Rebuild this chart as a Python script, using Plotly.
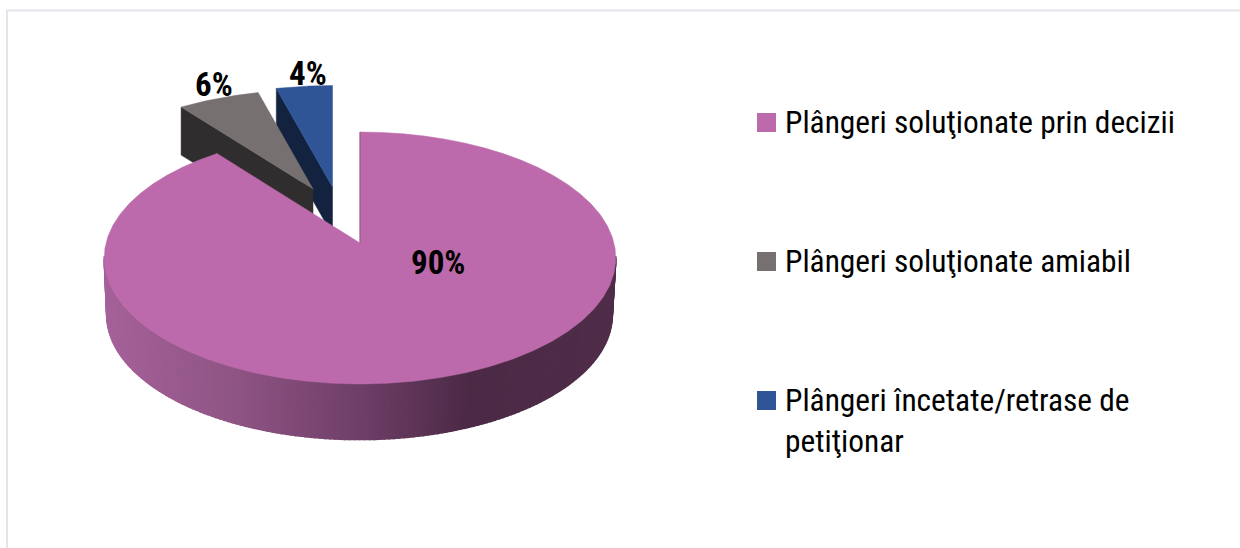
import numpy as np
import plotly.graph_objects as go

# ---- data ----
categories = ["Plângeri soluţionate prin decizii", "Plângeri soluţionate amiabil",
              "Plângeri încetate/retrase de<br>petiţionar"]
values = [90, 6, 4]
top_colors = ["#bc6aab", "#767170", "#2f5597"]
side_colors = [None, "#2f2d2d", "#13233f"]

# ---- pie geometry (pixels; a tilted disc seen in perspective) ----
W, H = 1240, 548
K = 0.119
DEPTH = 48
apex = [(360, 243), (313, 189), (332.5, 187)]
scale = [(254, 124.2), (246, 111), (252, 113.5)]
end_trim = [2.0, 0.0, 0.0]   # the big slice's cut edge sits slightly short in perspective


def proj(deg, ax, ay, bx, by):
    t = np.radians(deg)
    d = 1 + K * np.cos(t)
    return ax + bx * np.sin(t) / d, ay - by * np.cos(t) / d


angles = np.concatenate([[0], np.cumsum(values)]) * 3.6
fig = go.Figure()


def poly(x, y, color, width=0.5):
    fig.add_trace(go.Scatter(x=x, y=y, mode="lines", fill="toself", fillcolor=color,
                             line=dict(color=color, width=width), hoverinfo="skip",
                             showlegend=False))


def wedge(i):
    th = np.linspace(angles[i], angles[i + 1] - end_trim[i], 60)
    xs, ys = proj(th, *apex[i], *scale[i])
    return np.r_[apex[i][0], xs, apex[i][0]], np.r_[apex[i][1], ys, apex[i][1]], xs[0], ys[0]


# blue slice, then grey slice: radial side faces and top faces
for i in (2, 1):
    x, y, x0, y0 = wedge(i)
    ax, ay = apex[i]
    poly([x0, ax, ax, x0, x0], [y0, ay, ay + DEPTH, y0 + DEPTH, y0], side_colors[i])
    poly(x, y, top_colors[i])

# large slice: outer wall shaded across its width, then the top face
grad_x = [104, 240, 360, 470, 616]
grad_r = [0xa6, 0x8e, 0x6f, 0x4c, 0x50]
grad_g = [0x62, 0x54, 0x3f, 0x2a, 0x2e]
grad_b = [0x9a, 0x83, 0x68, 0x46, 0x4a]
th = np.arange(96, 265, 1.0)
for a, b in zip(th[:-1], th[1:]):
    tx0, ty0 = proj(a, 360, 243, 254, 124.2)
    tx1, ty1 = proj(b, 360, 243, 254, 124.2)
    bx0, by0 = proj(a, 359.5, 300, 251, 123)
    bx1, by1 = proj(b, 359.5, 300, 251, 123)
    xm = (tx0 + tx1) / 2
    col = "rgb(%d,%d,%d)" % (np.interp(xm, grad_x, grad_r), np.interp(xm, grad_x, grad_g),
                             np.interp(xm, grad_x, grad_b))
    poly([tx0, tx1, bx1, bx0, tx0], [ty0, ty1, by1, by0, ty0], col, 1.5)

x, y, x0, y0 = wedge(0)
poly(x, y, top_colors[0])
fig.add_trace(go.Scatter(x=[x0, apex[0][0]], y=[y0, apex[0][1]], mode="lines",
                         line=dict(color="#8c5a82", width=1), hoverinfo="skip", showlegend=False))

# legend swatches
legend_x = 766.5
legend_y = [122.5, 261.5, 400.5]
fig.add_trace(go.Scatter(x=[legend_x] * 3, y=legend_y, mode="markers",
                         marker=dict(symbol="square", size=19, color=top_colors, line=dict(width=0)),
                         hoverinfo="skip", showlegend=False))

LABEL_FONT = "Roboto Condensed, Liberation Sans Narrow, DejaVu Sans Condensed, sans-serif"
annotations = []
for name, ly in zip(categories, legend_y):
    annotations.append(dict(x=783, y=ly - 0.5 if "<br>" not in name else ly + 20.5, text=name, showarrow=False,
                            xanchor="left", yanchor="middle", align="left",
                            font=dict(family=LABEL_FONT, size=31.4, color="#000000")))
label_pos = [(437.5, 262), (213.5, 84), (307.5, 73)]
for v, (lx, ly) in zip(values, label_pos):
    annotations.append(dict(x=lx, y=ly, text=f"<b>{v}%</b>", showarrow=False,
                            font=dict(family=LABEL_FONT, size=33, color="#000000")))

fig.update_layout(
    width=W, height=H, margin=dict(l=0, r=0, t=0, b=0),
    paper_bgcolor="white", plot_bgcolor="white", showlegend=False,
    xaxis=dict(range=[0, W], visible=False, fixedrange=True),
    yaxis=dict(range=[H, 0], visible=False, fixedrange=True),
    annotations=annotations,
    shapes=[
        dict(type="line", x0=7, x1=7, y0=10, y1=H, line=dict(color="#e4e6ec", width=2)),
        dict(type="line", x0=6, x1=W, y0=10.5, y1=10.5, line=dict(color="#e4e6ec", width=2)),
    ],
)
fig.write_html("out.html", config={"displayModeBar": False},
               post_script="document.body.style.margin='0';document.body.style.overflow='hidden';")
